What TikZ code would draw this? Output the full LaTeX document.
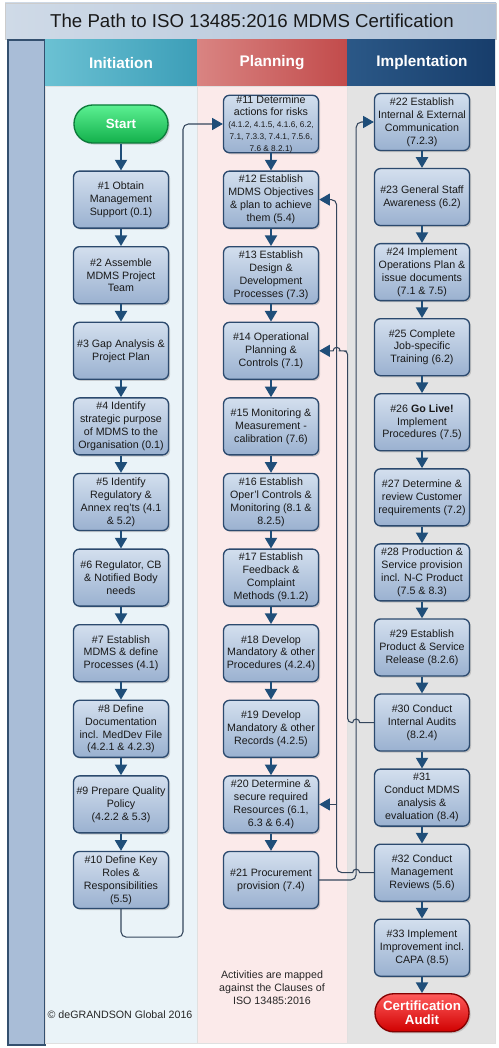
\documentclass[tikz,border=0pt]{standalone}
\usepackage{fontspec}
\setmainfont{Liberation Sans}
\usepackage{tikz}
\usetikzlibrary{positioning}
\usetikzlibrary{arrows.meta}
\usetikzlibrary{shapes}
\usetikzlibrary{calc}
\usetikzlibrary{shadows}

\definecolor{flowblue}{HTML}{1F4E79}
\definecolor{linegrey}{HTML}{34465C}
\definecolor{boxtop}{HTML}{D3DFEE}
\definecolor{boxbot}{HTML}{9AB1D0}
\definecolor{boxedge}{HTML}{2C4A6E}
\definecolor{titleL}{HTML}{CFDAE7}
\definecolor{titleR}{HTML}{AFC1D7}
\definecolor{barblue}{HTML}{A9BDD7}
\definecolor{baredge}{HTML}{34506F}
\definecolor{iniL}{HTML}{6BC1D3}
\definecolor{iniR}{HTML}{3C9EB8}
\definecolor{planL}{HTML}{D98482}
\definecolor{planR}{HTML}{C24B4B}
\definecolor{impL}{HTML}{2B5887}
\definecolor{impR}{HTML}{173D6B}
\definecolor{iniback}{HTML}{EAF3F8}
\definecolor{planback}{HTML}{FBEAEA}
\definecolor{impback}{HTML}{E3E3E3}
\definecolor{gotop}{HTML}{5CF092}
\definecolor{gobot}{HTML}{12B04B}
\definecolor{goedge}{HTML}{0C7A3A}
\definecolor{endtop}{HTML}{FF5C5C}
\definecolor{endbot}{HTML}{D00000}
\definecolor{endedge}{HTML}{850000}

\begin{document}
\begin{tikzpicture}[x=0.75pt,y=-0.75pt,node distance=56.7pt,>={Triangle[length=8pt,width=9pt]},
  task node/.style={rectangle,rounded corners=4.5pt,draw=boxedge,line width=1pt,top color=boxtop,bottom color=boxbot,minimum width=71.25pt,minimum height=42.75pt,inner sep=0pt,align=center,text=black!90,font=\fontsize{8}{9.7}\selectfont,drop shadow={shadow xshift=1.2pt,shadow yshift=-1.2pt,opacity=.35}},
  go node/.style={rectangle,rounded corners=14pt,draw=goedge,line width=1pt,top color=gotop,bottom color=gobot,minimum width=70.5pt,minimum height=28.5pt,inner sep=0pt,align=center,text=white,font=\fontsize{10}{11}\selectfont\bfseries,drop shadow={shadow xshift=1.2pt,shadow yshift=-1.2pt,opacity=.35}},
  end node/.style={go node,draw=endedge,top color=endtop,bottom color=endbot},
  head node/.style={text=white,font=\fontsize{11.5}{13}\selectfont\bfseries},
  note node/.style={align=center,text=black!85,font=\fontsize{8}{9.7}\selectfont},
  flow/.style={->,color=flowblue,line width=1.5pt},
  feedback/.style={-{Triangle[length=8pt,width=9pt,color=flowblue]},color=linegrey,line width=0.8pt}]

  % frame, title and swimlanes
  \useasboundingbox (0,0) rectangle (499,1048);
  \fill[white] (0,0) rectangle (499,1048);
  \shade[left color=titleL,right color=titleR,draw=white!80!black] (5,3) rectangle (496,39);
  \node[font=\fontsize{14}{16}\selectfont,text=black!90] (title) at (252,21) {The Path to ISO 13485:2016 MDMS Certification};
  \draw[fill=barblue,draw=baredge,line width=0.8pt] (8,40) rectangle (45,1045);
  \fill[iniback] (45,86) rectangle (197,1043);
  \fill[planback] (197,86) rectangle (347,1043);
  \fill[impback] (347,86) rectangle (495,1043);
  \draw[black!12] (45,86) rectangle (197,1043) (197,86) rectangle (347,1043) (347,86) rectangle (495,1043);
  \shade[left color=iniL,right color=iniR] (45,40) rectangle (197,86);
  \shade[left color=planL,right color=planR] (197,40) rectangle (347,86);
  \shade[left color=impL,right color=impR] (347,40) rectangle (495,86);
  \node[head node] (hini) at (121,63) {Initiation};
  \node[head node] (hplan) at (272,63) {Planning};
  \node[head node] (himp) at (422,63) {Implentation};

  % Initiation
  \node[go node] (start) at (121,124) {Start};
  \node[task node] (n1) [below of=start] {\#1 Obtain\\Management\\Support (0.1)};
  \node[task node] (n2) [below of=n1] {\#2 Assemble\\MDMS Project\\Team};
  \node[task node] (n3) [below of=n2] {\#3 Gap Analysis \&\\Project Plan};
  \node[task node] (n4) [below of=n3] {\#4 Identify\\strategic purpose\\of MDMS to the\\Organisation (0.1)};
  \node[task node] (n5) [below of=n4] {\#5 Identify\\Regulatory \&\\Annex req'ts (4.1\\\& 5.2)};
  \node[task node] (n6) [below of=n5] {\#6 Regulator, CB\\\& Notified Body\\needs};
  \node[task node] (n7) [below of=n6] {\#7 Establish\\MDMS \& define\\Processes (4.1)};
  \node[task node] (n8) [below of=n7] {\#8 Define\\Documentation\\incl. MedDev File\\(4.2.1 \& 4.2.3)};
  \node[task node] (n9) [below of=n8] {\#9 Prepare Quality\\Policy\\(4.2.2 \& 5.3)};
  \node[task node] (n10) [below of=n9] {\#10 Define Key\\Roles \&\\Responsibilities\\(5.5)};

  % Planning
  \node[task node,font=\fontsize{8}{9}\selectfont] (n11) at (271,124) {\#11 Determine\\actions for risks\\{\fontsize{6.2}{7.4}\selectfont (4.1.2, 4.1.5, 4.1.6, 6.2,}\\{\fontsize{6.2}{7.4}\selectfont 7.1, 7.3.3, 7.4.1, 7.5.6,}\\{\fontsize{6.2}{7.4}\selectfont 7.6 \& 8.2.1)}};
  \node[task node] (n12) [below of=n11] {\#12 Establish\\MDMS Objectives\\\& plan to achieve\\them (5.4)};
  \node[task node] (n13) [below of=n12] {\#13 Establish\\Design \&\\Development\\Processes (7.3)};
  \node[task node] (n14) [below of=n13] {\#14 Operational\\Planning \&\\Controls (7.1)};
  \node[task node] (n15) [below of=n14] {\#15 Monitoring \&\\Measurement -\\calibration (7.6)};
  \node[task node] (n16) [below of=n15] {\#16 Establish\\Oper'l Controls \&\\Monitoring (8.1 \&\\8.2.5)};
  \node[task node] (n17) [below of=n16] {\#17 Establish\\Feedback \&\\Complaint\\Methods (9.1.2)};
  \node[task node] (n18) [below of=n17] {\#18 Develop\\Mandatory \& other\\Procedures (4.2.4)};
  \node[task node] (n19) [below of=n18] {\#19 Develop\\Mandatory \& other\\Records (4.2.5)};
  \node[task node] (n20) [below of=n19] {\#20 Determine \&\\secure required\\Resources (6.1,\\6.3 \& 6.4)};
  \node[task node] (n21) [below of=n20] {\#21 Procurement\\provision (7.4)};

  % Implementation
  \begin{scope}[node distance=56.3pt]
  \node[task node] (n22) at (422,122) {\#22 Establish\\Internal \& External\\Communication\\(7.2.3)};
  \node[task node] (n23) [below of=n22] {\#23 General Staff\\Awareness (6.2)};
  \node[task node] (n24) [below of=n23] {\#24 Implement\\Operations Plan \&\\issue documents\\(7.1 \& 7.5)};
  \node[task node] (n25) [below of=n24] {\#25 Complete\\Job-specific\\Training (6.2)};
  \node[task node] (n26) [below of=n25] {\#26 \textbf{Go Live!}\\Implement\\Procedures (7.5)};
  \node[task node] (n27) [below of=n26] {\#27 Determine \&\\review Customer\\requirements (7.2)};
  \node[task node] (n28) [below of=n27] {\#28 Production \&\\Service provision\\incl. N-C Product\\(7.5 \& 8.3)};
  \node[task node] (n29) [below of=n28] {\#29 Establish\\Product \& Service\\Release (8.2.6)};
  \node[task node] (n30) [below of=n29] {\#30 Conduct\\Internal Audits\\(8.2.4)};
  \node[task node] (n31) [below of=n30] {\#31\\Conduct MDMS\\analysis \&\\evaluation (8.4)};
  \node[task node] (n32) [below of=n31] {\#32 Conduct\\Management\\Reviews (5.6)};
  \node[task node] (n33) [below of=n32] {\#33 Implement\\Improvement incl.\\CAPA (8.5)};
  \node[end node] (audit) [below of=n33,node distance=48.75pt] {Certification\\Audit};
  \end{scope}

  \node[note node] (clauses) at (272,988) {Activities are mapped\\against the Clauses of\\ISO 13485:2016};
  \node[note node] (copy) at (120,1015) {© deGRANDSON Global 2016};

  % main flow
  \path[flow] (start) edge (n1) (n1) edge (n2) (n2) edge (n3) (n3) edge (n4) (n4) edge (n5)
    (n5) edge (n6) (n6) edge (n7) (n7) edge (n8) (n8) edge (n9) (n9) edge (n10);
  \path[flow] (n11) edge (n12) (n12) edge (n13) (n13) edge (n14) (n14) edge (n15) (n15) edge (n16)
    (n16) edge (n17) (n17) edge (n18) (n18) edge (n19) (n19) edge (n20) (n20) edge (n21);
  \path[flow] (n22) edge (n23) (n23) edge (n24) (n24) edge (n25) (n25) edge (n26) (n26) edge (n27)
    (n27) edge (n28) (n28) edge (n29) (n29) edge (n30) (n30) edge (n31) (n31) edge (n32)
    (n32) edge (n33) (n33) edge (audit);

  % lane changes and feedback loops (with line jumps)
  \coordinate (busA) at ($(n12.east)+(17.5,0)$);
  \coordinate (busB) at ($(n12.east)+(28.5,0)$);
  \coordinate (busC) at ($(n21.east)+(37,0)$);
  \draw[feedback,rounded corners=4pt] (n10.south) -- ($(n10.south)+(0,28)$) -- ($(n10.south)+(62,28)$) |- (n11.west);
  \draw[feedback,rounded corners=4pt] (n21.east) -- (n21.east -| busC) |- (n22.west);
  \draw[feedback] (n32.west) -- ($(n32.west -| busC)+(3.5,0)$) arc[start angle=0,end angle=-180,radius=3.5]
    -- ($(n32.west -| busC)+(-5.5,0)$) [rounded corners=4pt] -- (n32.west -| busA) |- (n12.east);
  \draw[feedback] (n20.east -| busA) -- (n20.east);
  \draw[feedback] (n30.west) -- ($(n30.west -| busC)+(3.5,0)$) arc[start angle=0,end angle=-180,radius=3.5]
    -- ($(n30.west -| busC)+(-4.5,0)$) [rounded corners=3pt] -- (n30.west -| busB) -- (n14.east -| busB)
    -- ($(n14.east -| busA)+(6,0)$) [sharp corners] -- ($(n14.east -| busA)+(3.5,0)$)
    arc[start angle=0,end angle=-180,radius=3.5] -- (n14.east);
\end{tikzpicture}
\end{document}
